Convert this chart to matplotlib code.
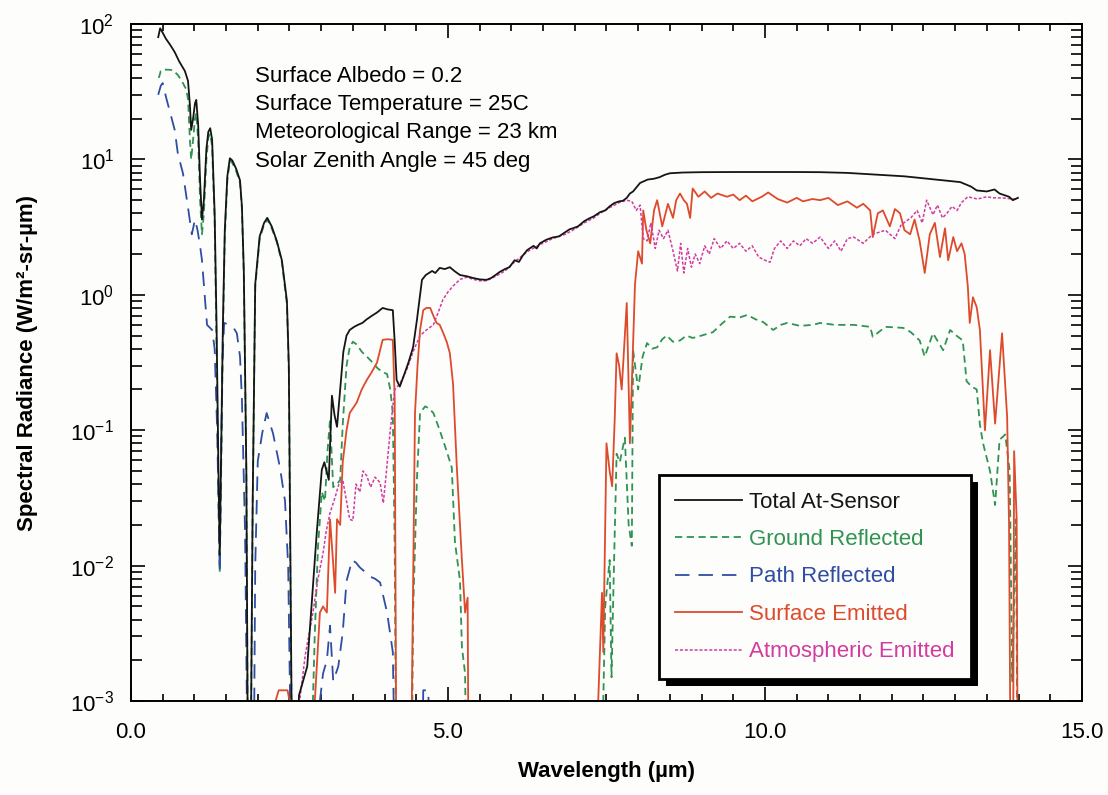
import matplotlib
matplotlib.use('Agg')
import matplotlib.pyplot as plt
import matplotlib.patheffects as pe
from matplotlib.ticker import MultipleLocator, FuncFormatter, LogLocator

plt.rcParams['font.family'] = ['Liberation Sans', 'DejaVu Sans']

# values below 1e-3 (1e-4) fall off the bottom of the axis
OFF = 1e-4

wl_total = [0.43, 0.46, 0.49, 0.55, 0.62, 0.69, 0.76, 0.85, 0.90, 0.93, 0.95, 0.98, 1.01, 1.03, 1.06,
            1.09, 1.12, 1.15, 1.19, 1.22, 1.25, 1.28, 1.32, 1.35, 1.38, 1.40, 1.42, 1.45, 1.48, 1.52,
            1.56, 1.60, 1.66, 1.72, 1.75, 1.78, 1.82, 1.85, 1.88, 1.92, 1.96, 2.03, 2.10, 2.15, 2.22,
            2.30, 2.38, 2.46, 2.49, 2.52, 2.55, 2.60, 2.65, 2.78, 2.86, 2.93, 3.01, 3.05, 3.12, 3.17,
            3.21, 3.25, 3.30, 3.35, 3.40, 3.45, 3.52, 3.58, 3.65, 3.72, 3.80, 3.88, 3.97, 4.05, 4.13,
            4.16, 4.19, 4.24, 4.30, 4.38, 4.45, 4.51, 4.56, 4.59, 4.65, 4.75, 4.80, 4.87, 4.95, 5.03,
            5.10, 5.19, 5.30, 5.40, 5.50, 5.61, 5.68, 5.75, 5.82, 5.90, 5.97, 6.05, 6.12, 6.18, 6.25,
            6.35, 6.40, 6.45, 6.55, 6.65, 6.75, 6.85, 6.92, 6.97, 7.05, 7.15, 7.22, 7.30, 7.40, 7.48,
            7.55, 7.62, 7.70, 7.76, 7.82, 7.87, 7.92, 8.03, 8.15, 8.25, 8.34, 8.42, 8.50, 8.70, 9.0,
            9.5, 10.0, 10.5, 10.87, 11.3, 11.8, 12.2, 12.44, 12.8, 13.08, 13.25, 13.34, 13.5, 13.62,
            13.7, 13.85, 13.91, 13.99]
rad_total = [80, 93, 88, 78, 70, 62, 53, 45, 38, 25, 16.5, 20, 26, 27.5, 18,
             7, 3.6, 5, 12, 16, 17, 14, 4, 0.6, 0.05, 0.012, 0.06, 0.6, 3, 7.5,
             10.2, 9.8, 8.5, 7.0, 4.5, 1.5, 0.05, OFF, OFF, 0.03, 1.2, 2.7, 3.4, 3.7, 3.2,
             2.5, 1.8, 0.9, 0.3, 0.005, OFF, OFF, 0.0011, 0.0018, 0.006, 0.0174, 0.051, 0.058, 0.043, 0.18,
             0.13, 0.106, 0.2, 0.38, 0.5, 0.55, 0.58, 0.6, 0.62, 0.66, 0.7, 0.74, 0.8, 0.78, 0.77,
             0.45, 0.235, 0.21, 0.25, 0.32, 0.41, 0.65, 1.0, 1.29, 1.4, 1.5, 1.45, 1.58, 1.55, 1.6,
             1.5, 1.4, 1.37, 1.33, 1.3, 1.29, 1.33, 1.4, 1.48, 1.55, 1.6, 1.8, 1.75, 1.95, 2.14,
             2.3, 2.2, 2.4, 2.55, 2.65, 2.7, 2.9, 3.05, 3.1, 3.2, 3.5, 3.65, 3.8, 4.08, 4.2,
             4.5, 4.75, 4.9, 4.95, 5.2, 5.6, 5.8, 6.7, 7.1, 7.2, 7.4, 7.7, 7.9, 8.0, 8.05,
             8.07, 8.07, 8.07, 8.05, 7.95, 7.7, 7.5, 7.3, 7.0, 6.8, 6.3, 5.9, 5.8, 6.0,
             5.6, 5.3, 5.0, 5.2]

wl_ground = [0.44, 0.47, 0.50, 0.58, 0.66, 0.74, 0.82, 0.87, 0.90, 0.93, 0.95, 0.98, 1.01, 1.03, 1.06,
             1.09, 1.12, 1.15, 1.19, 1.22, 1.25, 1.28, 1.32, 1.35, 1.38, 1.40, 1.42, 1.45, 1.48, 1.52,
             1.56, 1.60, 1.66, 1.72, 1.75, 1.78, 1.82, 1.85, 1.88, 1.92, 1.96, 2.03, 2.10, 2.15, 2.22,
             2.30, 2.38, 2.46, 2.49, 2.52, 2.55, 2.85, 2.87, 2.90, 2.95, 3.01, 3.06, 3.10, 3.14, 3.19,
             3.25, 3.30, 3.34, 3.40, 3.45, 3.50, 3.56, 3.64, 3.72, 3.80, 3.88, 3.96, 4.04, 4.09, 4.13,
             4.16, 4.19, 4.42, 4.45, 4.51, 4.56, 4.64, 4.70, 4.77, 4.87, 4.98, 5.06, 5.11, 5.19, 5.22,
             5.27, 5.30, 7.42, 7.45, 7.48, 7.55, 7.58, 7.61, 7.66, 7.71, 7.79, 7.85, 7.90, 7.92, 8.00,
             8.07, 8.14, 8.22, 8.30, 8.38, 8.45, 8.55, 8.66, 8.76, 8.86, 9.0, 9.18, 9.30, 9.45, 9.6,
             9.72, 9.85, 9.97, 10.13, 10.25, 10.35, 10.55, 10.76, 10.87, 11.1, 11.4, 11.66, 11.7, 11.9, 12.18,
             12.3, 12.44, 12.52, 12.65, 12.73, 12.81, 12.92, 13.02, 13.12, 13.18, 13.26, 13.34, 13.39, 13.44, 13.55,
             13.63, 13.70, 13.79, 13.86, 13.90, 13.96, 13.99]
rad_ground = [40, 45, 46, 46, 45.7, 42, 36.6, 33, 28, 14, 10, 14, 20, 22, 14,
              5, 2.8, 4, 10, 14.5, 15.5, 12.5, 3.5, 0.4, 0.03, 0.009, 0.04, 0.5, 2.7, 7,
              9.8, 9.4, 8.2, 6.7, 4.3, 1.4, 0.045, OFF, OFF, 0.028, 1.15, 2.6, 3.3, 3.6, 3.1,
              2.45, 1.75, 0.85, 0.28, 0.004, OFF, OFF, 0.001, 0.0032, 0.0138, 0.035, 0.03, 0.07, 0.12, 0.038,
              0.04, 0.043, 0.11, 0.3, 0.41, 0.45, 0.43, 0.38, 0.35, 0.32, 0.29, 0.27, 0.26, 0.2, 0.134,
              0.014, OFF, OFF, 0.0045, 0.043, 0.134, 0.15, 0.145, 0.134, 0.1, 0.07, 0.053, 0.015, 0.0077, 0.0025,
              0.0016, OFF, OFF, 0.001, 0.005, 0.011, 0.0015, 0.0068, 0.067, 0.058, 0.088, 0.02, 0.014, 0.39, 0.2,
              0.35, 0.44, 0.4, 0.41, 0.47, 0.5, 0.45, 0.46, 0.5, 0.48, 0.5, 0.53, 0.6, 0.69, 0.68,
              0.71, 0.66, 0.63, 0.55, 0.6, 0.62, 0.59, 0.6, 0.62, 0.6, 0.6, 0.58, 0.49, 0.58, 0.57,
              0.53, 0.46, 0.35, 0.52, 0.45, 0.39, 0.55, 0.5, 0.46, 0.23, 0.21, 0.2, 0.11, 0.08, 0.05,
              0.028, 0.085, 0.093, 0.05, 0.0014, 0.022, OFF]

wl_path = [0.43, 0.47, 0.50, 0.56, 0.62, 0.69, 0.74, 0.82, 0.90, 0.96, 1.01, 1.05, 1.09, 1.12, 1.17,
           1.20, 1.28, 1.32, 1.36, 1.40, 1.44, 1.47, 1.55, 1.62, 1.67, 1.72, 1.75, 1.80, 1.85, 1.93,
           1.96, 2.00, 2.07, 2.14, 2.24, 2.35, 2.43, 2.48, 2.54, 2.96, 2.98, 3.03, 3.09, 3.14, 3.19,
           3.27, 3.34, 3.40, 3.49, 3.55, 3.61, 3.69, 3.77, 3.85, 3.93, 4.04, 4.13, 4.18, 4.58, 4.61,
           4.69, 4.74]
rad_path = [30, 35, 36.6, 28, 22, 16.5, 11, 7.9, 4.4, 2.8, 3.6, 3.0, 2.3, 1.8, 0.9,
            0.6, 0.55, 0.4, 0.1, 0.009, 0.3, 0.62, 0.6, 0.57, 0.52, 0.35, 0.17, 0.0174, OFF, OFF,
            0.01, 0.059, 0.095, 0.134, 0.095, 0.053, 0.03, 0.0097, OFF, OFF, 0.001, 0.0016, 0.002, 0.0036, 0.0014,
            0.0018, 0.0032, 0.0077, 0.011, 0.0105, 0.0097, 0.009, 0.0083, 0.008, 0.0075, 0.0045, 0.0023, OFF, OFF, 0.0012,
            0.0012, OFF]

wl_surface = [2.25, 2.28, 2.33, 2.38, 2.47, 2.52, 2.54, 2.88, 2.90, 2.98, 3.03, 3.09, 3.14, 3.18, 3.22,
              3.25, 3.30, 3.34, 3.40, 3.45, 3.56, 3.64, 3.72, 3.80, 3.88, 3.97, 4.05, 4.13, 4.16, 4.19,
              4.41, 4.43, 4.48, 4.52, 4.56, 4.61, 4.66, 4.72, 4.77, 4.82, 4.87, 4.92, 4.98, 5.03, 5.08,
              5.14, 5.22, 5.27, 5.31, 5.33, 7.35, 7.37, 7.43, 7.45, 7.50, 7.55, 7.59, 7.63, 7.66, 7.70,
              7.74, 7.82, 7.87, 7.95, 8.00, 8.06, 8.08, 8.13, 8.19, 8.25, 8.30, 8.38, 8.47, 8.55, 8.60,
              8.66, 8.72, 8.77, 8.82, 8.86, 8.95, 9.05, 9.15, 9.25, 9.4, 9.5, 9.6, 9.7, 9.8, 9.95,
              10.05, 10.2, 10.35, 10.5, 10.6, 10.75, 10.87, 11.0, 11.15, 11.3, 11.45, 11.55, 11.66, 11.70, 11.78,
              11.86, 11.97, 12.05, 12.13, 12.20, 12.29, 12.36, 12.44, 12.52, 12.60, 12.68, 12.76, 12.84, 12.89, 12.97,
              13.03, 13.10, 13.15, 13.20, 13.23, 13.28, 13.34, 13.39, 13.47, 13.55, 13.63, 13.74, 13.82, 13.85, 13.88,
              13.91, 13.93, 13.97, 13.99]
rad_surface = [OFF, 0.001, 0.0012, 0.0012, 0.0012, 0.0009, OFF, OFF, 0.001, 0.0045, 0.005, 0.0045, 0.022, 0.012, 0.0063,
               0.022, 0.02, 0.058, 0.1, 0.134, 0.16, 0.2, 0.235, 0.27, 0.315, 0.465, 0.47, 0.465, 0.17, OFF,
               OFF, 0.001, 0.134, 0.3, 0.55, 0.77, 0.8, 0.8, 0.7, 0.62, 0.6, 0.53, 0.45, 0.37, 0.22,
               0.053, 0.011, 0.0045, 0.0058, OFF, OFF, 0.001, 0.0063, 0.0023, 0.08, 0.05, 0.0385, 0.12, 0.37, 0.3,
               0.2, 0.87, 0.08, 1.2, 2.1, 1.7, 4.2, 3.0, 2.4, 4.2, 5.0, 3.2, 4.7, 3.7, 5.0,
               5.6, 5.0, 4.7, 3.7, 6.1, 5.3, 5.8, 5.2, 5.6, 5.3, 5.5, 5.0, 5.4, 4.9, 5.3,
               5.7, 5.1, 4.8, 5.2, 4.9, 5.1, 5.0, 5.2, 4.6, 4.9, 4.4, 4.7, 4.2, 2.67, 4.0,
               4.2, 3.2, 4.3, 4.0, 3.0, 2.8, 3.6, 2.5, 1.45, 2.8, 3.4, 1.9, 3.1, 1.8, 2.67,
               2.1, 2.4, 2.0, 1.15, 0.62, 0.96, 0.81, 0.55, 0.1, 0.39, 0.112, 0.52, 0.125, 0.02, OFF,
               OFF, 0.07, 0.022, OFF]

wl_atmos = [2.60, 2.66, 2.75, 2.87, 2.95, 3.03, 3.08, 3.14, 3.22, 3.28, 3.34, 3.40, 3.45, 3.50, 3.55,
            3.61, 3.66, 3.72, 3.78, 3.85, 3.93, 3.98, 4.03, 4.09, 4.16, 4.24, 4.35, 4.45, 4.56, 4.66,
            4.77, 4.85, 4.92, 5.0, 5.08, 5.19, 5.30, 5.40, 5.50, 5.61, 5.75, 5.90, 6.05, 6.25, 6.45,
            6.65, 6.85, 6.97, 7.15, 7.30, 7.40, 7.55, 7.70, 7.82, 7.90, 7.97, 8.03, 8.08, 8.14, 8.2,
            8.27, 8.33, 8.40, 8.47, 8.55, 8.62, 8.67, 8.72, 8.78, 8.84, 8.90, 8.97, 9.05, 9.12, 9.2,
            9.3, 9.4, 9.5, 9.6, 9.7, 9.8, 9.9, 10.0, 10.08, 10.15, 10.25, 10.35, 10.45, 10.55, 10.65,
            10.75, 10.87, 11.0, 11.1, 11.2, 11.3, 11.4, 11.55, 11.7, 11.9, 12.05, 12.15, 12.3, 12.4, 12.48,
            12.55, 12.65, 12.72, 12.80, 12.87, 12.95, 13.03, 13.1, 13.2, 13.35, 13.5, 13.6, 13.75, 13.9, 13.97]
rad_atmos = [OFF, 0.001, 0.0022, 0.0045, 0.008, 0.0124, 0.018, 0.0245, 0.032, 0.04, 0.043, 0.03, 0.022, 0.0215, 0.04,
             0.035, 0.05, 0.046, 0.038, 0.045, 0.041, 0.029, 0.05, 0.1, 0.2, 0.22, 0.28, 0.38, 0.5, 0.55,
             0.6, 0.75, 0.92, 1.05, 1.16, 1.3, 1.35, 1.3, 1.27, 1.27, 1.37, 1.5, 1.75, 2.08, 2.35,
             2.6, 2.8, 3.0, 3.4, 3.7, 4.0, 4.4, 4.8, 5.0, 4.9, 4.2, 4.6, 2.6, 2.5, 3.4,
             2.2, 3.0, 2.6, 3.0, 2.1, 1.5, 2.4, 1.45, 2.2, 1.6, 2.0, 1.7, 2.3, 2.0, 2.6,
             2.2, 2.5, 2.2, 2.4, 2.1, 2.3, 1.9, 1.8, 1.74, 2.2, 2.5, 2.2, 2.5, 2.3, 2.6,
             2.4, 2.67, 2.2, 2.5, 2.1, 2.6, 2.67, 2.4, 2.8, 3.0, 2.6, 3.3, 3.7, 4.2, 3.4,
             5.0, 3.9, 4.6, 3.7, 4.0, 4.5, 4.2, 4.8, 5.3, 5.1, 5.3, 5.2, 5.2, 5.1, 5.1]

labels = ['Total At-Sensor', 'Ground Reflected', 'Path Reflected', 'Surface Emitted', 'Atmospheric Emitted']
colors = ['#151515', '#2f9452', '#2f4da3', '#de4a2c', '#d23c9f']
notes = ['Surface Albedo = 0.2', 'Surface Temperature = 25C',
         'Meteorological Range = 23 km', 'Solar Zenith Angle = 45 deg']

bg = '#fdfdfb'
fig = plt.figure(figsize=(11.08, 7.95), dpi=100)
fig.patch.set_facecolor(bg)
ax = fig.add_axes([0.1182, 0.1182, 0.8583, 0.8516])
ax.set_facecolor(bg)
ax.set_yscale('log')

l_ground, = ax.plot(wl_ground, rad_ground, color=colors[1], lw=1.3, dashes=(4, 2.5))
l_path, = ax.plot(wl_path, rad_path, color=colors[2], lw=1.3, dashes=(8, 5))
l_surf, = ax.plot(wl_surface, rad_surface, color=colors[3], lw=1.3)
l_atm, = ax.plot(wl_atmos, rad_atmos, color=colors[4], lw=1.1, dashes=(2, 1.2))
l_tot, = ax.plot(wl_total, rad_total, color=colors[0], lw=1.3)

ax.set_xlim(0, 15)
ax.set_ylim(1e-3, 1e2)
ax.xaxis.set_major_locator(MultipleLocator(5))
ax.xaxis.set_minor_locator(MultipleLocator(0.5))
ax.xaxis.set_major_formatter(FuncFormatter(lambda v, p: f'{v:.1f}'))
ax.yaxis.set_major_locator(LogLocator(base=10, numticks=10))
ax.yaxis.set_minor_locator(LogLocator(base=10, subs=range(2, 10), numticks=10))

ax.tick_params(which='both', direction='in', top=True, right=True, width=1.2, labelsize=16)
ax.tick_params(which='major', length=10)
ax.tick_params(axis='x', which='minor', length=5)
ax.tick_params(axis='y', which='minor', length=8)
ax.tick_params(axis='x', pad=15)
ax.tick_params(axis='y', pad=12)
for s in ax.spines.values():
    s.set_linewidth(1.4)

ax.set_xlabel('Wavelength (µm)', fontsize=16, fontweight='bold')
ax.set_ylabel('Spectral Radiance (W/m²-sr-µm)', fontsize=16, fontweight='bold')
ax.xaxis.set_label_coords(0.5, -0.088)
ax.yaxis.set_label_coords(-0.098, 0.5)

for i, t in enumerate(notes):
    ax.text(0.1304, 0.923 - i * 0.0418, t, transform=ax.transAxes, fontsize=16, va='center', ha='left')

leg = ax.legend([l_tot, l_ground, l_path, l_surf, l_atm], labels, loc='upper left',
                bbox_to_anchor=(0.555, 0.334), borderaxespad=0, frameon=True, fancybox=False,
                edgecolor='black', fontsize=16, handlelength=3.0, handletextpad=0.3,
                labelspacing=0.74, borderpad=0.75, labelcolor=colors, framealpha=1)
leg.get_frame().set_linewidth(2)
leg.get_frame().set_facecolor(bg)
leg.get_frame().set_path_effects([pe.SimplePatchShadow(offset=(5, -5), shadow_rgbFace='black', alpha=1.0),
                                  pe.Normal()])

fig.savefig('out.png', dpi=100, facecolor=bg)
